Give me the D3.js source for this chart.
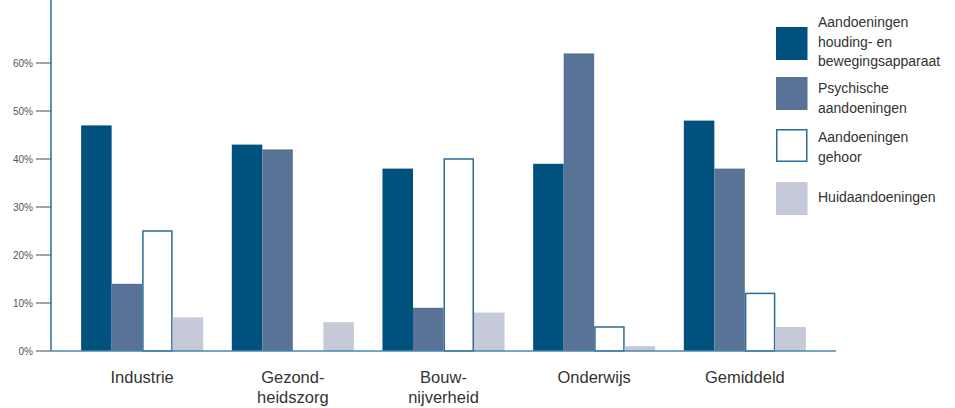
<!DOCTYPE html>
<html>
<head>
<meta charset="utf-8">
<script src="https://cdn.jsdelivr.net/npm/d3@7"></script>
<style>
  html, body { margin: 0; padding: 0; background: #fff; }
  svg { display: block; font-family: "Liberation Sans", Arial, sans-serif; }
</style>
</head>
<body>
<svg id="chart" width="955" height="408"></svg>
<script>
// Sectors (labels may wrap over two lines)
const categories = ["Industrie", "Gezondheidszorg", "Bouwnijverheid", "Onderwijs", "Gemiddeld"];
const categoryLines = [["Industrie"], ["Gezond-", "heidszorg"], ["Bouw-", "nijverheid"], ["Onderwijs"], ["Gemiddeld"]];

// Share of occupational disorders per sector, in percent
const seriesNames = ["Aandoeningen houding- en bewegingsapparaat", "Psychische aandoeningen", "Aandoeningen gehoor", "Huidaandoeningen"];
const legendLines = [["Aandoeningen", "houding- en", "bewegingsapparaat"], ["Psychische", "aandoeningen"], ["Aandoeningen", "gehoor"], ["Huidaandoeningen"]];
const bewegingsapparaat = [47, 43, 38, 39, 48];
const psychisch = [14, 42, 9, 62, 38];
const gehoor = [25, 0, 40, 5, 12];
const huid = [7, 6, 8, 1, 5];
const seriesValues = [bewegingsapparaat, psychisch, gehoor, huid];

const yTicks = [0, 10, 20, 30, 40, 50, 60];
const yTickLabels = ["0%", "10%", "20%", "30%", "40%", "50%", "60%"];

const fills = ["#00517e", "#587396", "#ffffff", "#c5c9d8"];
const strokes = [null, null, "#2b6b98", null];

const svg = d3.select("#chart");

const x0 = d3.scaleBand().domain(categories).range([51, 836]).paddingInner(0.19).paddingOuter(0.2);
const x1 = d3.scaleBand().domain(d3.range(seriesNames.length)).range([0, x0.bandwidth()]);
const y = d3.scaleLinear().domain([0, 60]).range([351, 63]);

// y axis ticks and labels
const yAxis = svg.append("g");
yAxis.selectAll("line").data(yTicks).join("line")
  .attr("x1", 36).attr("x2", 51)
  .attr("y1", d => y(d)).attr("y2", d => y(d))
  .attr("stroke", "#666").attr("stroke-width", 1.2);
yAxis.selectAll("text").data(yTicks).join("text")
  .attr("x", 33).attr("y", d => y(d)).attr("dy", "0.35em")
  .attr("text-anchor", "end").attr("font-size", 10).attr("fill", "#555")
  .text((d, i) => yTickLabels[i]);

// bars
const groups = svg.append("g").selectAll("g").data(categories).join("g")
  .attr("transform", d => `translate(${x0(d)},0)`);
groups.selectAll("rect")
  .data((c, ci) => seriesValues.map((vals, si) => ({ si, v: vals[ci] })))
  .join("rect")
  .attr("x", d => x1(d.si) + (strokes[d.si] ? 0.75 : 0))
  .attr("width", d => x1.bandwidth() - (strokes[d.si] ? 1.5 : 0))
  .attr("y", d => y(d.v))
  .attr("height", d => y(0) - y(d.v))
  .attr("fill", d => fills[d.si])
  .attr("stroke", d => strokes[d.si] || "none")
  .attr("stroke-width", 1.5);

// axis lines
svg.append("line").attr("x1", 51).attr("x2", 51).attr("y1", 0).attr("y2", y(0))
  .attr("stroke", "#2b6b98").attr("stroke-width", 1.5);
svg.append("line").attr("x1", 51).attr("x2", 836).attr("y1", y(0)).attr("y2", y(0))
  .attr("stroke", "#4a86ad").attr("stroke-width", 1.5);

// category labels
const catLabels = svg.append("g").selectAll("text").data(categories).join("text")
  .attr("x", d => x0(d) + x0.bandwidth() / 2)
  .attr("y", 383)
  .attr("text-anchor", "middle").attr("font-size", 16.5).attr("fill", "#333");
catLabels.selectAll("tspan").data((d, i) => categoryLines[i]).join("tspan")
  .attr("x", function() { return this.parentNode.getAttribute("x"); })
  .attr("dy", (d, i) => i === 0 ? 0 : 20)
  .text(d => d);

// legend
const legendTop = [27, 77, 129, 182];
const legend = svg.append("g").selectAll("g").data(seriesNames).join("g")
  .attr("transform", (d, i) => `translate(776,${legendTop[i]})`);
legend.append("rect")
  .attr("x", (d, i) => strokes[i] ? 0.75 : 0).attr("y", (d, i) => strokes[i] ? 0.75 : 0)
  .attr("width", (d, i) => strokes[i] ? 30 : 31.5).attr("height", (d, i) => strokes[i] ? 31.5 : 33)
  .attr("fill", (d, i) => fills[i])
  .attr("stroke", (d, i) => strokes[i] || "none").attr("stroke-width", 1.5);
const legendOffsets = [0, 16, 13, 20];
legend.append("text")
  .attr("x", 42)
  .attr("y", (d, i) => legendOffsets[i])
  .attr("font-size", 14).attr("fill", "#333")
  .selectAll("tspan").data((d, i) => legendLines[i]).join("tspan")
  .attr("x", 42)
  .attr("dy", (d, i) => i === 0 ? 0 : 19.5)
  .text(d => d);
</script>
</body>
</html>
